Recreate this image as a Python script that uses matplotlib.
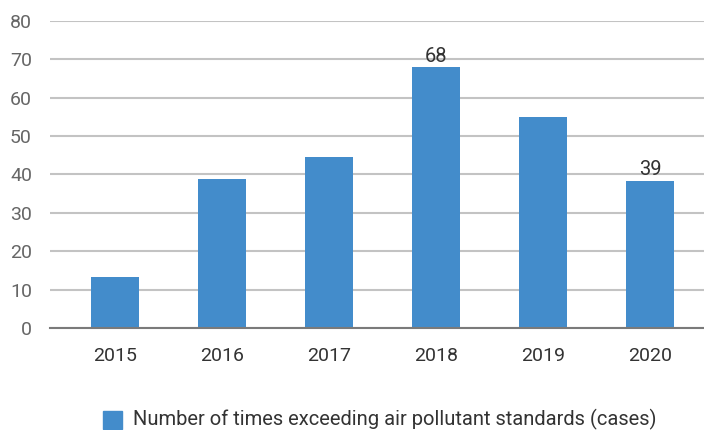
import numpy as np
import matplotlib.pyplot as plt

# datos
anios = ["2015", "2016", "2017", "2018", "2019", "2020"]
casos = [13.3, 38.8, 44.5, 68.0, 54.9, 38.3]
etiquetas = {3: "68", 5: "39"}
yticks = [0, 10, 20, 30, 40, 50, 60, 70, 80]
leyenda = "Number of times exceeding air pollutant standards (cases)"

plt.rcParams["font.family"] = ["Roboto", "DejaVu Sans"]

fig = plt.figure(figsize=(7.04, 4.30), dpi=100)
ax = fig.add_axes([50 / 704, 102 / 430, 654 / 704, 307 / 430])

x = np.arange(len(anios))
bar_color = "#438ccb"
ax.bar(x, casos, width=0.45, color=bar_color, zorder=3)

for i, txt in etiquetas.items():
    ax.text(x[i], casos[i] + 0.4, txt, ha="center", va="bottom",
            fontsize=14.5, color="#333333")

ax.set_ylim(0, 80)
ax.set_xlim(-0.607, 5.505)
ax.set_yticks(yticks)
ax.set_xticks(x)
ax.set_xticklabels(anios)
ax.tick_params(axis="both", length=0, labelsize=14, colors="#666666")
ax.tick_params(axis="y", pad=13)
ax.tick_params(axis="x", pad=14)
for lab in ax.get_xticklabels():
    lab.set_color("#333333")

ax.yaxis.grid(True, color="#c3c3c3", linewidth=1.5, zorder=0)
for s in ["top", "right", "left"]:
    ax.spines[s].set_visible(False)
ax.spines["bottom"].set_color("#7a7a7a")
ax.spines["bottom"].set_linewidth(1.5)
ax.spines["bottom"].set_zorder(4)

# leyenda
fig.patches.append(plt.Rectangle((103 / 704, 1 / 430), 19 / 704, 18 / 430,
                                 transform=fig.transFigure, color=bar_color))
fig.text(133 / 704, 11 / 430, leyenda, ha="left", va="center",
         fontsize=14.5, color="#333333")

fig.savefig("out.png", dpi=100)
